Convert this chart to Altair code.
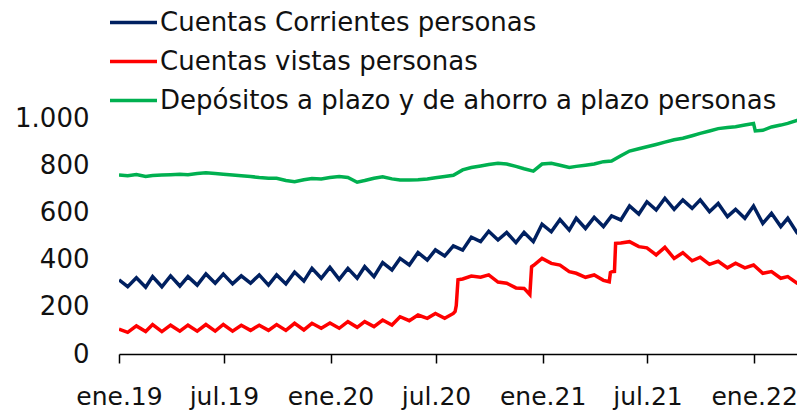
import altair as alt
import pandas as pd

series_names = [
    "Cuentas Corrientes personas",
    "Cuentas vistas personas",
    "Depósitos a plazo y de ahorro a plazo personas",
]
series_colors = ["#002060", "#FF0000", "#00B050"]

# date grid: 1 Jan 2019, then for each month the 16th and the last day, ending 23 Mar 2022
month_starts = pd.date_range("2019-01-01", "2022-02-01", freq="MS")
grid = [pd.Timestamp("2019-01-01")]
for m in month_starts:
    grid += [m + pd.Timedelta(days=15), m + pd.offsets.MonthEnd(0)]
grid += [pd.Timestamp("2022-03-16"), pd.Timestamp("2022-03-23")]

# values (one value per grid date)
corrientes = [314,
    285, 323, 283, 328, 285, 331, 288, 328, 292, 339, 300, 339,
    297, 331, 300, 335, 292, 335, 297, 347, 309, 363, 321, 367,
    316, 363, 321, 370, 328, 387, 356, 405, 377, 430, 398, 441,
    415, 458, 440, 495, 476, 520, 483, 515, 472, 515, 476, 550,
    518, 570, 525, 575, 532, 579, 540, 585, 568, 627, 593, 645,
    610, 660, 613, 653, 617, 653, 603, 638, 582, 613, 575, 627,
    553, 596, 540, 575, 514, 520]

vistas = [105,
    92, 119, 95, 125, 95, 122, 97, 122, 97, 125, 97, 125,
    97, 122, 100, 122, 100, 125, 100, 130, 102, 130, 109, 131,
    109, 137, 113, 137, 116, 144, 123, 158, 141, 165, 151, 172,
    151, 172, 318, 330, 325, 335, 305, 300, 280, 278, 375, 405,
    384, 377, 349, 342, 325, 335, 312, 348, 470, 476, 455, 450,
    420, 452, 405, 429, 395, 410, 380, 393, 365, 385, 365, 377,
    342, 349, 321, 328, 300, 295]

plazo = [758,
    755, 760, 752, 756, 758, 760, 762, 760, 765, 768, 765, 762,
    758, 755, 752, 748, 745, 745, 735, 730, 738, 744, 742, 748,
    752, 748, 728, 735, 745, 751, 742, 737, 737, 738, 742, 747,
    752, 757, 780, 790, 797, 803, 808, 805, 795, 785, 775, 805,
    808, 800, 790, 795, 800, 805, 815, 818, 840, 860, 870, 878,
    888, 898, 908, 914, 925, 935, 945, 955, 960, 963, 970, 977,
    948, 962, 970, 977, 990, 998]

# extra points around the jumps of the series
vistas_extra_dates = ["2020-08-03", "2020-08-05", "2020-08-08", "2020-12-10", "2020-12-13",
                      "2021-04-26", "2021-04-28", "2021-05-05", "2021-05-07"]
vistas_extra_vals = [180, 205, 315, 252, 370, 306, 345, 350, 469]
plazo_extra_dates = ["2022-01-03"]
plazo_extra_vals = [945]

rows = []
for name, vals in zip(series_names, [corrientes, vistas, plazo]):
    for d, v in zip(grid, vals):
        rows.append({"fecha": d, "valor": v, "serie": name})
for d, v in zip(vistas_extra_dates, vistas_extra_vals):
    rows.append({"fecha": pd.Timestamp(d), "valor": v, "serie": series_names[1]})
for d, v in zip(plazo_extra_dates, plazo_extra_vals):
    rows.append({"fecha": pd.Timestamp(d), "valor": v, "serie": series_names[2]})
df = pd.DataFrame(rows).sort_values(["serie", "fecha"])

FONT = "DejaVu Sans"
TXT = "#111111"

x_ticks = [alt.DateTime(year=y, month=mo, date=1)
           for y, mo in [(2019, 1), (2019, 7), (2020, 1), (2020, 7), (2021, 1), (2021, 7), (2022, 1)]]

chart = alt.Chart(df).mark_line(strokeWidth=3.5, clip=True).encode(
    x=alt.X("fecha:T",
            scale=alt.Scale(domain=[alt.DateTime(year=2019, month=1, date=1),
                                    alt.DateTime(year=2022, month=3, date=16)], nice=False),
            axis=alt.Axis(values=x_ticks, title=None, grid=False,
                          labelExpr="(month(datum.value) == 0 ? 'ene.' : 'jul.') + timeFormat(datum.value, '%y')",
                          domainColor="#000000", domainWidth=1.5, tickColor="#000000", tickWidth=1.5,
                          tickSize=9, labelFontSize=25, labelFont=FONT, labelColor=TXT,
                          labelPadding=21, labelFlush=False, labelOverlap=False)),
    y=alt.Y("valor:Q",
            scale=alt.Scale(domain=[0, 1000], nice=False),
            axis=alt.Axis(values=[0, 200, 400, 600, 800, 1000], title=None, grid=False,
                          domain=False, ticks=False,
                          labelExpr="replace(format(datum.value, ',.0f'), ',', '.')",
                          labelFontSize=26, labelFont=FONT, labelColor=TXT, labelPadding=30)),
    color=alt.Color("serie:N",
                    scale=alt.Scale(domain=series_names, range=series_colors),
                    sort=series_names,
                    legend=alt.Legend(orient="none", legendX=-11, legendY=-121, title=None,
                                      symbolType="stroke", symbolSize=2209, symbolStrokeWidth=3.5,
                                      labelFontSize=26, labelFont=FONT, labelColor=TXT,
                                      labelLimit=900, labelOffset=1, rowPadding=-1.5, padding=0)),
).properties(
    width=678, height=236,
    padding={"left": 111, "top": 110, "right": 0, "bottom": 57},
    autosize=alt.AutoSizeParams(type="none"),
).configure_view(stroke=None)

chart.save("out.html", embed_options={"renderer": "svg", "actions": False})
